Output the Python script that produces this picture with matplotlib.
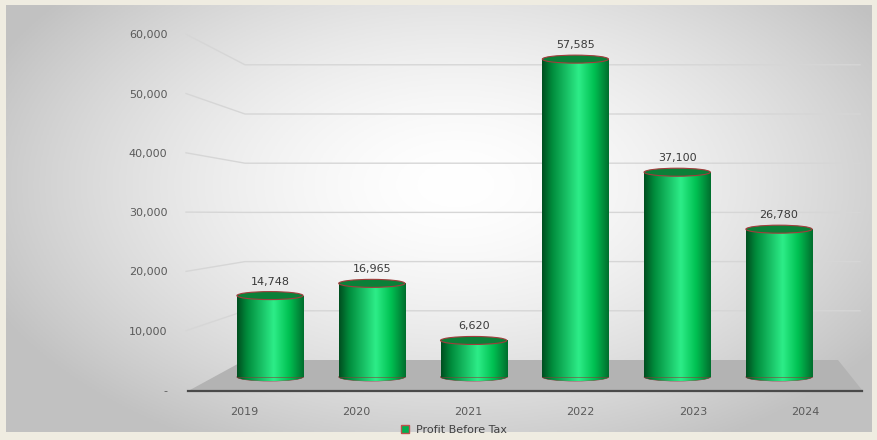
import numpy as np
import matplotlib
matplotlib.use("Agg")
import matplotlib.pyplot as plt
from matplotlib.patches import Ellipse, Polygon, Patch
from matplotlib.colors import LinearSegmentedColormap

# data
years = ["2019", "2020", "2021", "2022", "2023", "2024"]
profit = [14748, 16965, 6620, 57585, 37100, 26780]
labels = ["14,748", "16,965", "6,620", "57,585", "37,100", "26,780"]
yticks = [0, 10000, 20000, 30000, 40000, 50000, 60000]
ytick_labels = ["-", "10,000", "20,000", "30,000", "40,000", "50,000", "60,000"]

W, H = 877, 440
fig = plt.figure(figsize=(W / 100, H / 100), dpi=100)
fig.patch.set_facecolor("#efece1")

# background panel with radial gradient
bg = fig.add_axes([6 / W, (H - 432) / H, (872 - 6) / W, (432 - 5) / H], zorder=0)
gx, gy = np.meshgrid(np.linspace(0, 866, 300), np.linspace(0, 427, 150))
r = np.sqrt(((gx - 450) / 480) ** 2 + ((gy - 180) / 280) ** 2)
shade = np.clip(1 - 0.22 * r ** 1.6, 0.76, 1)
bg.imshow(np.dstack([shade, shade, shade]), aspect="auto", extent=(0, 1, 0, 1))
bg.set_axis_off()

# main axes: bar plane, in value units
AX_L, AX_R, AX_T, AX_B = 180, 870, 20, 396
X0, XS = 270, 101.8       # px of first bar centre, px per category
Y0, YS = 377, 0.00552     # px of bar base, px per unit
ax = fig.add_axes([AX_L / W, (H - AX_B) / H, (AX_R - AX_L) / W, (AX_B - AX_T) / H], zorder=1)
ax.set_xlim((AX_L - X0) / XS, (AX_R - X0) / XS)
ax.set_ylim((Y0 - AX_B) / YS, (Y0 - AX_T) / YS)
ax.patch.set_alpha(0)
for s in ax.spines.values():
    s.set_visible(False)


def px2x(px):
    return (px - X0) / XS


def px2y(py):
    return (Y0 - py) / YS


def front_py(v):
    return 390 - v * 0.00593


def back_py(v):
    return 360 - v * 0.00492


# floor
floor = Polygon([(px2x(190), px2y(390)), (px2x(245), px2y(360)),
                 (px2x(838), px2y(360)), (px2x(862), px2y(390))],
                closed=True, facecolor="#b3b3b3", edgecolor="none", zorder=1)
ax.add_patch(floor)
ax.plot([px2x(188), px2x(862)], [px2y(391), px2y(391)], color="#4a4a4a", lw=1.6, zorder=2)

# gridlines on back wall
for v in yticks[1:]:
    ax.plot([px2x(186), px2x(245), px2x(860)],
            [px2y(front_py(v)), px2y(back_py(v)), px2y(back_py(v))],
            color="#d6d6d6", lw=1, zorder=1)

# y tick labels on front plane
ax.set_yticks([px2y(front_py(v)) for v in yticks])
ax.set_yticklabels(ytick_labels, fontsize=8, color="#5a5a5a")
ax.tick_params(axis="y", length=0, pad=9)

# x tick labels on front plane
ax.set_xticks([px2x(244 + 112.2 * i) for i in range(len(years))])
ax.set_xticklabels(years, fontsize=8, color="#5a5a5a")
ax.tick_params(axis="x", length=0, pad=8)

# cylinders
cmap = LinearSegmentedColormap.from_list(
    "cyl", [(0, "#004f20"), (0.15, "#008c3c"), (0.55, "#2ded88"),
            (0.78, "#00c152"), (1, "#006f2e")])
grad = np.linspace(0, 1, 200).reshape(1, -1)
bw = 0.65
eh = 8 / YS
for i, v in enumerate(profit):
    bars = ax.bar(i, v, width=bw, color="none", edgecolor="#8b3a3a", lw=0.4, zorder=3)
    rect = bars[0]
    im = ax.imshow(grad, cmap=cmap, aspect="auto", zorder=3,
                   extent=(i - bw / 2, i + bw / 2, 0 - eh, v))
    im.set_clip_path(rect)
    bottom = Ellipse((i, 0), bw, eh, facecolor="none", edgecolor="#8b3a3a", lw=0.5, zorder=2.9)
    ax.add_patch(bottom)
    im2 = ax.imshow(grad, cmap=cmap, aspect="auto", zorder=2.9,
                    extent=(i - bw / 2, i + bw / 2, -eh, eh))
    im2.set_clip_path(bottom)
    top = Ellipse((i, v), bw, eh, facecolor="#0b8038", edgecolor="#a23c3c", lw=0.8, zorder=4)
    ax.add_patch(top)
    ax.text(i, v + 9 / YS, labels[i], ha="center", va="bottom",
            fontsize=8, color="#3a3a3a", zorder=5)

# legend
fig.legend(handles=[Patch(facecolor="#00b050", edgecolor="#c0504d", label="Profit Before Tax")],
           loc="center", bbox_to_anchor=(454 / W, (H - 430) / H), frameon=False,
           fontsize=8, handlelength=0.7, handleheight=0.7, handletextpad=0.6,
           labelcolor="#404040")

fig.savefig("out.png", dpi=100)
